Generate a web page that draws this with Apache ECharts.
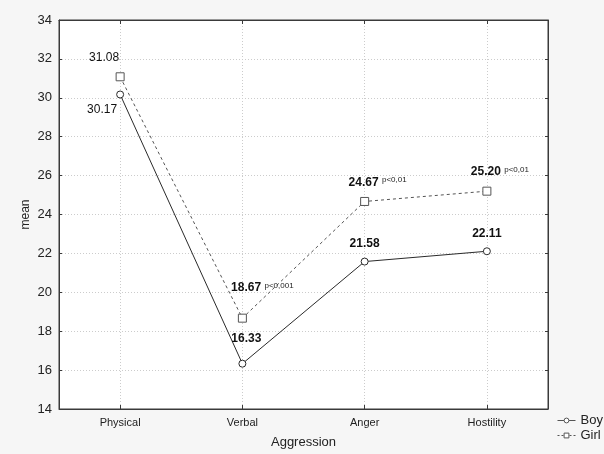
<!DOCTYPE html>
<html><head><meta charset="utf-8">
<script src="https://cdn.jsdelivr.net/npm/echarts@6/dist/echarts.min.js"></script>
<style>html,body{margin:0;padding:0;background:#f6f6f6;}#c{width:604px;height:454px;}</style>
</head><body><div id="c"></div>
<script>
const categories = ['Physical', 'Verbal', 'Anger', 'Hostility'];
const boyValues = [30.17, 16.33, 21.58, 22.11];
const girlValues = [31.08, 18.67, 24.67, 25.20];
const girlNotes = ['', 'p<0,001', 'p<0,01', 'p<0,01'];
const yTicks = [14, 16, 18, 20, 22, 24, 26, 28, 30, 32, 34];

const FONT = 'Liberation Sans, Arial, sans-serif';
const rich = {
  n: {fontFamily: FONT, fontSize: 12, color: '#111'},
  b: {fontFamily: FONT, fontSize: 12, fontWeight: 'bold', color: '#111'},
  p: {fontFamily: FONT, fontSize: 8, color: '#222', padding: [0, 0, 5, 0]}
};
// label placement per category (style only)
const boyLabelCfg = [
  {position: 'bottom', offset: [-18, 0], style: 'n'},
  {position: 'top', offset: [4, -10], style: 'b'},
  {position: 'top', offset: [0, -3], style: 'b'},
  {position: 'top', offset: [0, -3], style: 'b'}
];
const girlLabelCfg = [
  {position: 'top', offset: [-16, -4], style: 'n'},
  {position: 'top', offset: [20, -14], style: 'b'},
  {position: 'top', offset: [13, -3], style: 'b'},
  {position: 'top', offset: [13, -3], style: 'b'}
];
function buildData(values, cfg, notes) {
  return values.map((v, i) => {
    const txt = '{' + cfg[i].style + '|' + v.toFixed(2) + '}' +
      (notes && notes[i] ? ' {p|' + notes[i] + '}' : '');
    return {
      value: v,
      label: {show: true, position: cfg[i].position, offset: cfg[i].offset,
              formatter: txt, rich: rich}
    };
  });
}

const chart = echarts.init(document.getElementById('c'));
chart.setOption({
  backgroundColor: '#f6f6f6',
  animation: false,
  grid: {left: 59, right: 56, top: 20, bottom: 45, show: true,
         backgroundColor: '#ffffff', borderColor: '#3a3a3a', borderWidth: 1},
  legend: {
    orient: 'vertical', left: 552, top: 409, itemWidth: 18, itemHeight: 6, itemGap: 2,
    textStyle: {fontFamily: FONT, fontSize: 13, color: '#222'},
    data: [
      {name: 'Boy', itemStyle: {color: '#fff', borderColor: '#555', borderWidth: 1}, lineStyle: {width: 1, color: '#555'}},
      {name: 'Girl', itemStyle: {color: '#fff', borderColor: '#555', borderWidth: 1}, lineStyle: {width: 1, color: '#555', type: [2, 2]}}
    ]
  },
  xAxis: [{
    type: 'category', data: categories, boundaryGap: true,
    name: 'Aggression', nameLocation: 'middle', nameGap: 27, nameMoveOverlap: false,
    nameTextStyle: {fontFamily: FONT, fontSize: 13, color: '#222'},
    axisLine: {lineStyle: {color: '#3a3a3a'}},
    axisTick: {show: true, inside: true, length: 4, alignWithLabel: true, lineStyle: {color: '#3a3a3a'}},
    axisLabel: {fontFamily: FONT, fontSize: 11, color: '#222', margin: 8},
    splitLine: {show: true, alignWithLabel: true, lineStyle: {color: '#cccccc', type: [1, 2]}}
  }, {
    type: 'category', data: categories, position: 'top', boundaryGap: true,
    axisLine: {lineStyle: {color: '#3a3a3a'}},
    axisTick: {show: true, inside: true, length: 4, alignWithLabel: true, lineStyle: {color: '#3a3a3a'}},
    axisLabel: {show: false}, splitLine: {show: false}
  }],
  yAxis: [{
    type: 'value', min: 14, max: 34, interval: 2,
    name: 'mean', nameLocation: 'middle', nameGap: 27, nameMoveOverlap: false,
    nameTextStyle: {fontFamily: FONT, fontSize: 12, color: '#222'},
    axisLine: {show: true, lineStyle: {color: '#3a3a3a'}},
    axisTick: {show: true, inside: true, length: 3, lineStyle: {color: '#3a3a3a'}},
    axisLabel: {fontFamily: FONT, fontSize: 13, color: '#222', margin: 7,
                formatter: v => yTicks.includes(v) ? String(v) : ''},
    splitLine: {show: true, lineStyle: {color: '#cccccc', type: [1, 2]}}
  }, {
    type: 'value', min: 14, max: 34, interval: 2, position: 'right',
    axisLine: {show: true, lineStyle: {color: '#3a3a3a'}},
    axisTick: {show: true, inside: true, length: 3, lineStyle: {color: '#3a3a3a'}},
    axisLabel: {show: false}, splitLine: {show: false}
  }],
  series: [{
    name: 'Boy', type: 'line', data: buildData(boyValues, boyLabelCfg, null),
    symbol: 'circle', symbolSize: 7,
    lineStyle: {color: '#2a2a2a', width: 1},
    itemStyle: {color: '#ffffff', borderColor: '#2a2a2a', borderWidth: 1}
  }, {
    name: 'Girl', type: 'line', data: buildData(girlValues, girlLabelCfg, girlNotes),
    symbol: 'rect', symbolSize: 8,
    lineStyle: {color: '#555555', width: 1, type: [3, 3]},
    itemStyle: {color: '#ffffff', borderColor: '#555555', borderWidth: 1}
  }]
});
</script></body></html>
